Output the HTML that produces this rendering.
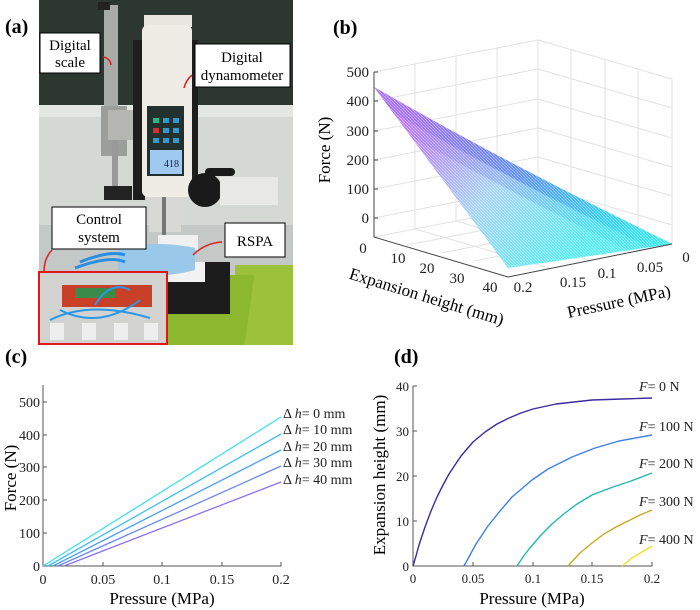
<!DOCTYPE html>
<html><head><meta charset="utf-8"><style>
html,body{margin:0;padding:0;background:#fff;}
svg{display:block;font-family:"Liberation Serif",serif;}
</style></head><body>
<svg width="700" height="610" viewBox="0 0 700 610" xmlns="http://www.w3.org/2000/svg">
<defs>
<linearGradient id="surf" x1="374" y1="87" x2="560" y2="270" gradientUnits="userSpaceOnUse">
<stop offset="0" stop-color="#ea6ef4"/>
<stop offset="0.3" stop-color="#b58cf6"/>
<stop offset="0.6" stop-color="#a6d2f8"/>
<stop offset="1" stop-color="#52eef2"/>
</linearGradient>
<linearGradient id="edge" x1="420" y1="110" x2="672" y2="244" gradientUnits="userSpaceOnUse">
<stop offset="0" stop-color="#9a6cf0"/>
<stop offset="0.4" stop-color="#4f7ef2"/>
<stop offset="0.75" stop-color="#28c8f2"/>
<stop offset="1" stop-color="#30eef0"/>
</linearGradient>
<pattern id="mesh" width="3" height="3" patternUnits="userSpaceOnUse">
<path d="M0 0L3 3" stroke="#fff" stroke-width="0.7" opacity="0.55"/>
</pattern>
<clipPath id="sc"><path d="M374 87 Q500 160 672 244 L508 268 Z"/></clipPath>
</defs>

<!-- Panel (a) photo -->
<rect x="39" y="0" width="254" height="345" fill="#cfd2d0"/>
<rect x="39" y="0" width="254" height="110" fill="#2c3732"/>
<rect x="39" y="105" width="254" height="12" fill="#e4e6e4"/>
<rect x="39" y="117" width="254" height="110" fill="#d6d8d6"/>
<rect x="39" y="225" width="254" height="120" fill="#c4c8c6"/>
<rect x="104" y="5" width="14" height="105" fill="#a9aba8"/>
<rect x="98" y="2" width="12" height="8" fill="#222"/>
<rect x="101" y="106" width="26" height="50" fill="#9c9e9b"/>
<rect x="108" y="110" width="26" height="30" fill="#b5b6b2"/>
<rect x="112" y="140" width="6" height="55" fill="#999"/>
<rect x="104" y="186" width="28" height="14" fill="#222"/>
<rect x="133" y="40" width="12" height="160" fill="#1e1e1e"/>
<rect x="190" y="40" width="8" height="150" fill="#1e1e1e"/>
<rect x="144" y="15" width="48" height="12" fill="#e8e6de"/>
<rect x="142" y="25" width="50" height="172" rx="6" fill="#eeece4"/>
<rect x="147" y="106" width="37" height="70" fill="#22302e"/>
<rect x="150" y="150" width="32" height="24" fill="#9fc9f0"/>
<text x="164" y="167" font-size="10" fill="#224">418</text>
<rect x="153" y="118" width="6" height="5" fill="#2b8"/><rect x="163" y="118" width="6" height="5" fill="#39c"/><rect x="173" y="118" width="6" height="5" fill="#39c"/>
<rect x="153" y="128" width="6" height="5" fill="#c33"/><rect x="163" y="128" width="6" height="5" fill="#39c"/><rect x="173" y="128" width="6" height="5" fill="#39c"/>
<rect x="153" y="138" width="6" height="5" fill="#39c"/><rect x="163" y="138" width="6" height="5" fill="#39c"/><rect x="173" y="138" width="6" height="5" fill="#39c"/>
<rect x="149" y="197" width="32" height="35" fill="#d8d8d6"/>
<rect x="162" y="197" width="4" height="38" fill="#777"/>
<circle cx="205" cy="190" r="17" fill="#1a1a1a"/>
<rect x="205" y="168" width="30" height="8" rx="4" fill="#1a1a1a"/>
<rect x="220" y="177" width="58" height="28" fill="#e8e8e6"/>
<rect x="158" y="235" width="40" height="15" fill="#f0f0f0"/>
<rect x="235" y="265" width="58" height="80" fill="#9bc23a"/>
<rect x="210" y="275" width="83" height="70" fill="#8cb830" transform="skewX(-8)"/>
<rect x="165" y="262" width="65" height="52" fill="#1c1c1c"/>
<rect x="165" y="262" width="40" height="20" fill="#f2f2f2"/>
<path d="M118 248 Q160 240 195 248 L195 270 Q160 280 118 272Z" fill="#9ac8e8"/>
<path d="M80 262 Q110 250 125 255" stroke="#2a8ee0" stroke-width="3" fill="none"/>
<path d="M75 268 Q110 255 125 262" stroke="#2a8ee0" stroke-width="3" fill="none"/>
<rect x="39" y="272" width="128" height="72" fill="#d2d2d0" stroke="#e01818" stroke-width="2"/>
<rect x="62" y="285" width="90" height="22" fill="#c84028"/>
<rect x="75" y="288" width="40" height="10" fill="#3a8a4a"/>
<rect x="50" y="323" width="14" height="17" fill="#eee"/><rect x="82" y="323" width="14" height="17" fill="#eee"/>
<rect x="114" y="323" width="14" height="17" fill="#eee"/><rect x="144" y="323" width="14" height="17" fill="#eee"/>
<path d="M50 320 Q90 300 150 318 M60 310 Q100 330 140 300 M95 305 Q110 280 130 290" stroke="#2a98e8" stroke-width="2" fill="none"/>
<rect x="40" y="33" width="60" height="40" fill="#fff" stroke="#000" stroke-width="1"/>
<text x="70" y="50" font-size="15" text-anchor="middle">Digital</text>
<text x="70" y="67" font-size="15" text-anchor="middle">scale</text>
<path d="M103 57 Q110 58 111 65" stroke="#e02020" stroke-width="1.5" fill="none"/>
<rect x="195" y="44" width="95" height="43" fill="#fff" stroke="#000" stroke-width="1"/>
<text x="242" y="62" font-size="15" text-anchor="middle">Digital</text>
<text x="242" y="80" font-size="15" text-anchor="middle">dynamometer</text>
<path d="M192 75 Q186 80 184 88" stroke="#e02020" stroke-width="1.5" fill="none"/>
<rect x="52" y="207" width="94" height="42" fill="#fff" stroke="#000" stroke-width="1"/>
<text x="99" y="224" font-size="15" text-anchor="middle">Control</text>
<text x="99" y="242" font-size="15" text-anchor="middle">system</text>
<path d="M52 250 Q44 258 44 272" stroke="#e02020" stroke-width="1.5" fill="none"/>
<rect x="225" y="223" width="60" height="34" fill="#fff" stroke="#000" stroke-width="1"/>
<text x="255" y="246" font-size="15" text-anchor="middle">RSPA</text>
<path d="M222 242 Q205 243 193 255" stroke="#e02020" stroke-width="1.5" fill="none"/>
<text x="5" y="33" font-size="20" font-weight="bold">(a)</text>

<!-- Panel (b) -->
<text x="333" y="34" font-size="20" font-weight="bold">(b)</text>
<g stroke="#e2e2e2" stroke-width="1" fill="none">
<path d="M374 72L538 40M374 101L538 69M374 131L538 99M374 160L538 128M374 189L538 157M374 218L538 186"/>
<path d="M538 40L672 79M538 69L672 108M538 99L672 138M538 128L672 167M538 157L672 196M538 186L672 225"/>
<path d="M415 64V229M456 56V221M497 48V213M538 40V205"/>
<path d="M571 50V214M605 60V224M638 70V234"/>
<path d="M374 72V237L538 205L672 244V79"/>
<path d="M415 229L549 268M456 221L590 260M497 213L631 252M407 245L571 213M441 253L605 221M474 261L638 229"/>
</g>
<path d="M374 87 Q500 160 672 244 L508 268 Z" fill="url(#surf)"/>
<g clip-path="url(#sc)">
<path d="M374 87 Q500 160 672 244" stroke="url(#edge)" stroke-width="26" fill="none" opacity="0.75"/>
<path d="M374 87 Q500 160 672 244" stroke="url(#edge)" stroke-width="50" fill="none" opacity="0.3"/>
</g>
<path d="M374 87 Q500 160 672 244 L508 268 Z" fill="url(#mesh)"/>
<g stroke="#444" stroke-width="1" fill="none">
<path d="M374 72V237L508 277L672 244"/>
<path d="M374 72h4M374 101h4M374 131h4M374 160h4M374 189h4M374 218h4"/>
</g>
<g font-size="15" fill="#222" text-anchor="end">
<text x="369" y="77">500</text><text x="369" y="106">400</text><text x="369" y="136">300</text>
<text x="369" y="165">200</text><text x="369" y="194">100</text><text x="369" y="223">0</text>
</g>
<g font-size="15" fill="#222" text-anchor="middle">
<text x="363" y="253">0</text><text x="398" y="263">10</text><text x="427" y="273">20</text><text x="457" y="283">30</text><text x="490" y="292">40</text>
<text x="523" y="292">0.2</text><text x="573" y="287">0.15</text><text x="607" y="278">0.1</text><text x="650" y="272">0.05</text><text x="686" y="262">0</text>
</g>
<text transform="translate(330,150) rotate(-90)" font-size="17" text-anchor="middle">Force (N)</text>
<text transform="translate(425,302) rotate(17)" font-size="17" text-anchor="middle">Expansion height (mm)</text>
<text transform="translate(620,307) rotate(-12)" font-size="17" text-anchor="middle">Pressure (MPa)</text>

<!-- Panel (c) -->
<text x="5" y="363" font-size="20" font-weight="bold">(c)</text>
<g stroke="#555" stroke-width="1" fill="none">
<path d="M43 385V566H281V562"/>
<path d="M43 402h4M43 435h4M43 467h4M43 500h4M43 533h4M103 566v-4M162 566v-4M222 566v-4"/>
</g>
<g stroke-width="1.3" fill="none">
<path d="M43 566L281 417" stroke="#3ee0f0"/>
<path d="M48 566L281 434" stroke="#3fbdf4"/>
<path d="M53 566L281 450" stroke="#4aa0f4"/>
<path d="M58 566L281 466" stroke="#6a88f2"/>
<path d="M64 566L281 482" stroke="#8a6ef0"/>
</g>
<g font-size="14" fill="#222" text-anchor="end">
<text x="40" y="407">500</text><text x="40" y="440">400</text><text x="40" y="472">300</text><text x="40" y="505">200</text><text x="40" y="538">100</text><text x="40" y="571">0</text>
</g>
<g font-size="14" fill="#222" text-anchor="middle">
<text x="43" y="584">0</text><text x="103" y="584">0.05</text><text x="162" y="584">0.1</text><text x="222" y="584">0.15</text><text x="281" y="584">0.2</text>
</g>
<g font-size="14" fill="#222">
<text x="283" y="418">Δ <tspan font-style="italic">h</tspan>= 0 mm</text>
<text x="283" y="434">Δ <tspan font-style="italic">h</tspan>= 10 mm</text>
<text x="283" y="451">Δ <tspan font-style="italic">h</tspan>= 20 mm</text>
<text x="283" y="467">Δ <tspan font-style="italic">h</tspan>= 30 mm</text>
<text x="283" y="484">Δ <tspan font-style="italic">h</tspan>= 40 mm</text>
</g>
<text x="162" y="604" font-size="17" text-anchor="middle">Pressure (MPa)</text>
<text transform="translate(16,478) rotate(-90)" font-size="17" text-anchor="middle">Force (N)</text>

<!-- Panel (d) -->
<text x="394" y="363" font-size="20" font-weight="bold">(d)</text>
<g stroke="#555" stroke-width="1" fill="none">
<path d="M413 386V566H652V562"/>
<path d="M413 386h4M413 431h4M413 476h4M413 521h4M473 566v-4M533 566v-4M592 566v-4"/>
</g>
<g stroke-width="1.4" fill="none" stroke-linejoin="round">
<polyline points="413,566 416,556 419,545 422,536 425,527 431,511 437,497 443,485 449,474 455,465 461,456 467,449 473,442 485,432 497,424 509,418 521,413 533,409 556,404 574,402 592,400 622,399 652,398" stroke="#3a2ca0"/>
<polyline points="464,566 470,555 476,544 488,526 500,511 512,497 532,480 548,469 572,457 595,448 619,441 652,435" stroke="#3d7ff0"/>
<polyline points="517,566 523,557 529,549 541,535 553,523 565,513 577,504 592,495 613,487 631,481 652,473" stroke="#22b8b0"/>
<polyline points="568,566 580,553 592,543 604,534 616,527 628,521 640,515 652,510" stroke="#c8a820"/>
<polyline points="622,566 632,558 642,552 652,546" stroke="#f0e41c"/>
</g>
<g font-size="13" fill="#222" text-anchor="end">
<text x="409" y="391">40</text><text x="409" y="436">30</text><text x="409" y="481">20</text><text x="409" y="526">10</text><text x="409" y="571">0</text>
</g>
<g font-size="13" fill="#222" text-anchor="middle">
<text x="413" y="583">0</text><text x="473" y="583">0.05</text><text x="533" y="583">0.1</text><text x="592" y="583">0.15</text><text x="652" y="583">0.2</text>
</g>
<g font-size="14" fill="#222">
<text x="639" y="391"><tspan font-style="italic">F</tspan>= 0 N</text>
<text x="639" y="431"><tspan font-style="italic">F</tspan>= 100 N</text>
<text x="639" y="468"><tspan font-style="italic">F</tspan>= 200 N</text>
<text x="639" y="506"><tspan font-style="italic">F</tspan>= 300 N</text>
<text x="639" y="544"><tspan font-style="italic">F</tspan>= 400 N</text>
</g>
<text x="532" y="604" font-size="17" text-anchor="middle">Pressure (MPa)</text>
<text transform="translate(385,475) rotate(-90)" font-size="17" text-anchor="middle">Expansion height (mm)</text>
</svg>
</body></html>
